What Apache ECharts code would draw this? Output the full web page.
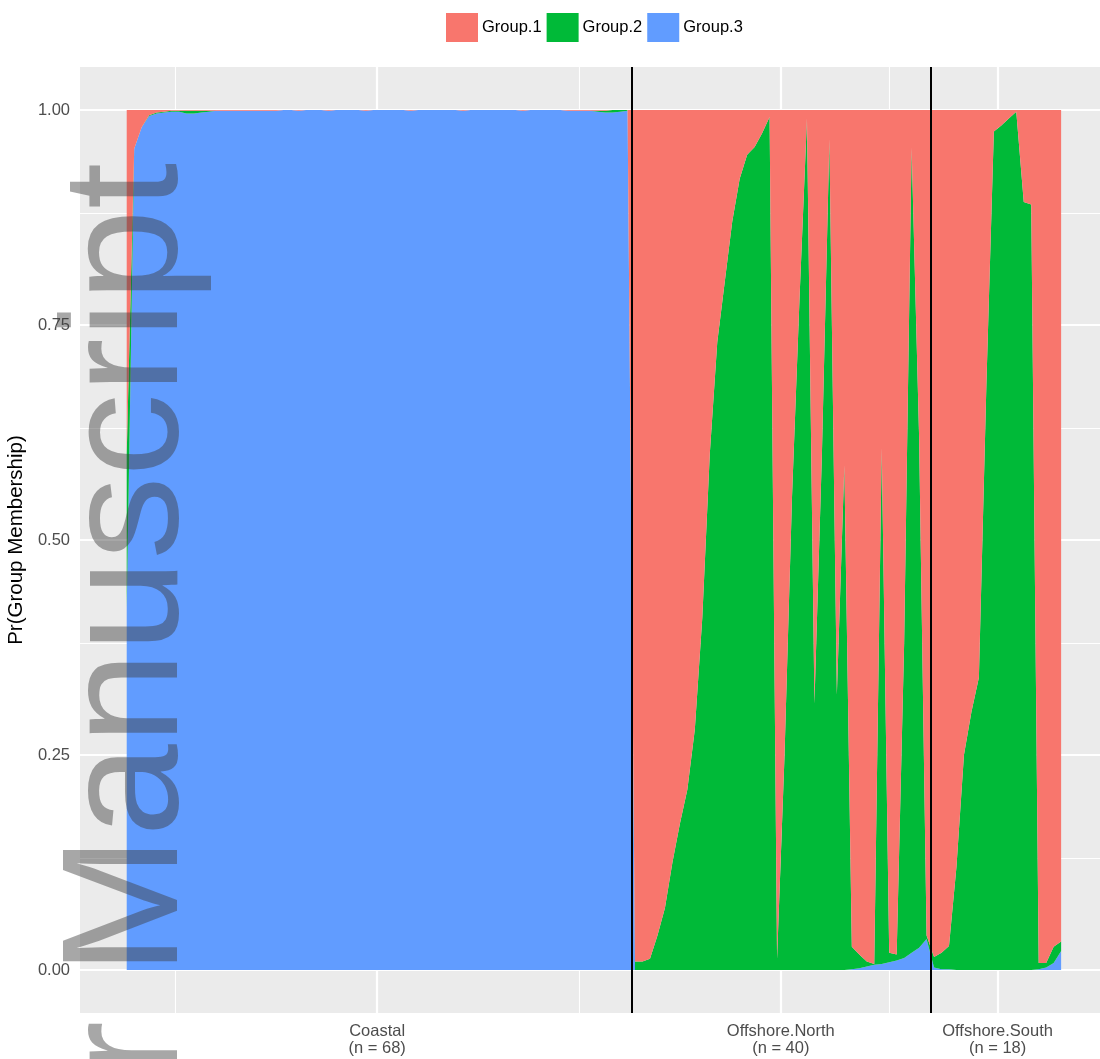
<!DOCTYPE html>
<html>
<head>
<meta charset="utf-8">
<script src="https://cdn.jsdelivr.net/npm/echarts@6/dist/echarts.min.js"></script>
<style>html,body{margin:0;padding:0;background:#fff}#c{width:1100px;height:1059px}</style>
</head>
<body>
<div id="c"></div>
<script>
// ---- data ----
const populations = ['Coastal', 'Offshore.North', 'Offshore.South'];
const popCounts = [68, 40, 18];
const groupNames = ['Group.1', 'Group.2', 'Group.3'];
const groupColors = ['#F8766D', '#00BA38', '#619CFF'];
const yTicks = [0, 0.25, 0.5, 0.75, 1];

const coastalG1 = [
0.400,0.045,0.020,0.006,0.003,0.002,0.001,0.001,0.001,0.001,
0.001,0.001,0.001,0.001,0.001,0.001,0.001,0.001,0.001,0.001,
0.001,0.000,0.000,0.001,0.000,0.000,0.000,0.001,0.000,0.000,
0.000,0.000,0.001,0.000,0.000,0.000,0.000,0.000,0.001,0.000,
0.000,0.000,0.000,0.000,0.000,0.001,0.000,0.000,0.000,0.000,
0.000,0.000,0.000,0.001,0.000,0.000,0.000,0.000,0.000,0.001,
0.001,0.001,0.001,0.001,0.001,0.000,0.000,0.000];
const coastalG2 = [
0.180,0.000,0.000,0.001,0.001,0.001,0.001,0.001,0.003,0.003,
0.002,0.001,0.000,0.000,0.000,0.000,0.000,0.000,0.000,0.000,
0.000,0.000,0.000,0.000,0.000,0.000,0.000,0.000,0.000,0.000,
0.000,0.000,0.000,0.000,0.000,0.000,0.000,0.000,0.000,0.000,
0.000,0.000,0.000,0.000,0.000,0.000,0.000,0.000,0.000,0.000,
0.000,0.000,0.000,0.000,0.000,0.000,0.000,0.000,0.000,0.000,
0.000,0.000,0.000,0.001,0.002,0.003,0.002,0.001];
const coastalG3 = [
0.420,0.955,0.980,0.993,0.996,0.997,0.998,0.998,0.996,0.996,
0.997,0.998,0.999,0.999,0.999,0.999,0.999,0.999,0.999,0.999,
0.999,1.000,1.000,0.999,1.000,1.000,1.000,0.999,1.000,1.000,
1.000,1.000,0.999,1.000,1.000,1.000,1.000,1.000,0.999,1.000,
1.000,1.000,1.000,1.000,1.000,0.999,1.000,1.000,1.000,1.000,
1.000,1.000,1.000,0.999,1.000,1.000,1.000,1.000,1.000,0.999,
0.999,0.999,0.999,0.998,0.997,0.997,0.998,0.999];

const northG1 = [
0.990,0.990,0.987,0.960,0.928,0.875,0.830,0.790,0.720,0.590,
0.400,0.270,0.200,0.130,0.080,0.052,0.043,0.027,0.008,0.987,
0.750,0.450,0.220,0.010,0.690,0.400,0.034,0.680,0.413,0.973,
0.982,0.990,0.993,0.393,0.980,0.982,0.620,0.044,0.380,0.960];
const northG2 = [
0.010,0.010,0.013,0.040,0.072,0.125,0.170,0.210,0.280,0.410,
0.600,0.730,0.800,0.870,0.920,0.948,0.957,0.973,0.992,0.013,
0.250,0.550,0.780,0.990,0.310,0.600,0.966,0.320,0.587,0.026,
0.016,0.006,0.001,0.600,0.011,0.007,0.366,0.936,0.594,0.004];
const northG3 = [
0.000,0.000,0.000,0.000,0.000,0.000,0.000,0.000,0.000,0.000,
0.000,0.000,0.000,0.000,0.000,0.000,0.000,0.000,0.000,0.000,
0.000,0.000,0.000,0.000,0.000,0.000,0.000,0.000,0.000,0.001,
0.002,0.004,0.006,0.007,0.009,0.011,0.014,0.020,0.026,0.036];

const southG1 = [
0.985,0.980,0.972,0.880,0.750,0.700,0.660,0.320,0.025,0.018,
0.010,0.002,0.107,0.110,0.992,0.992,0.973,0.967];
const southG2 = [
0.012,0.019,0.027,0.120,0.250,0.300,0.340,0.680,0.975,0.982,
0.990,0.998,0.893,0.890,0.007,0.005,0.019,0.011];
const southG3 = [
0.003,0.001,0.001,0.000,0.000,0.000,0.000,0.000,0.000,0.000,
0.000,0.000,0.000,0.000,0.001,0.003,0.008,0.022];

// ---- assemble ----
const g1 = coastalG1.concat(northG1, southG1);
const g2 = coastalG2.concat(northG2, southG2);
const g3 = coastalG3.concat(northG3, southG3);
// value first, individual index second (so the stack is applied to the value dimension)
const toPairs = arr => arr.map((v, i) => [v, i + 1]);

const labelPos = [];
const sepPos = [];
let start = 1;
popCounts.forEach((n, k) => {
  const end = start + n - 1;
  labelPos.push((start + end) / 2);
  if (k < popCounts.length - 1) sepPos.push(end + 0.5);
  start = end + 1;
});
const labelText = {};
labelPos.forEach((p, k) => { labelText[p] = populations[k] + '\n(n = ' + popCounts[k] + ')'; });

// ggplot-like grid lines
const xMajor = labelPos.slice();
const xMinor = [];
xMinor.push(xMajor[0] - (xMajor[1] - xMajor[0]) / 2);
for (let i = 0; i < xMajor.length - 1; i++) xMinor.push((xMajor[i] + xMajor[i + 1]) / 2);
const yMinor = [0.125, 0.375, 0.625, 0.875];

const gridLineData = []
  .concat(yTicks.map(v => ({ yAxis: v, lineStyle: { color: '#fff', width: 2.2, type: 'solid' } })))
  .concat(yMinor.map(v => ({ yAxis: v, lineStyle: { color: '#fff', width: 1.1, type: 'solid' } })))
  .concat(xMajor.map(v => ({ xAxis: v, lineStyle: { color: '#fff', width: 2.2, type: 'solid' } })))
  .concat(xMinor.map(v => ({ xAxis: v, lineStyle: { color: '#fff', width: 1.1, type: 'solid' } })));

const chart = echarts.init(document.getElementById('c'), null, { renderer: 'canvas' });

function areaSeries(name, data, color) {
  return {
    name: name, type: 'line', stack: 'total', data: toPairs(data),
    encode: { x: 1, y: 0 },
    showSymbol: false, symbol: 'none', smooth: false, z: 3,
    lineStyle: { width: 0, color: color },
    itemStyle: { color: color },
    areaStyle: { color: color, opacity: 1 },
    emphasis: { disabled: true }
  };
}

const option = {
  animation: false,
  backgroundColor: '#ffffff',
  textStyle: { fontFamily: '"Liberation Sans", Arial, sans-serif' },
  legend: {
    top: 8, left: 441,
    icon: 'rect', itemWidth: 32, itemHeight: 29, itemGap: 5,
    data: groupNames,
    textStyle: { fontSize: 16.5, color: '#000', padding: [0, 0, 0, -1] },
    selectedMode: false
  },
  grid: {
    left: 80, right: 0, top: 67, bottom: 46, show: true, backgroundColor: '#EBEBEB', borderWidth: 0,
    containLabel: false, outerBoundsMode: 'none'
  },
  xAxis: {
    type: 'value', min: -5.25, max: 131.2,
    axisLine: { show: false }, axisTick: { show: false }, splitLine: { show: false },
    axisLabel: {
      customValues: labelPos,
      formatter: v => labelText[v] || '',
      fontSize: 16.5, color: '#4D4D4D', lineHeight: 17, margin: 10, align: 'center'
    }
  },
  yAxis: {
    type: 'value', min: -0.05, max: 1.05,
    name: 'Pr(Group Membership)', nameLocation: 'middle', nameGap: 43, nameRotate: 90,
    nameTextStyle: { fontSize: 20.5, color: '#000' },
    axisLine: { show: false },
    axisTick: { show: true, customValues: yTicks, length: 5, lineStyle: { color: '#333333', width: 1.8 } },
    splitLine: { show: false },
    axisLabel: { customValues: yTicks, formatter: v => v.toFixed(2), fontSize: 16.5, color: '#4D4D4D', margin: 10 }
  },
  series: [
    {
      name: 'grid', type: 'line', data: [[0.5, 1]], encode: { x: 1, y: 0 }, z: 1, silent: true,
      showSymbol: false, symbol: 'none', lineStyle: { opacity: 0 },
      markLine: { silent: true, z: 1, symbol: ['none', 'none'], label: { show: false }, data: gridLineData, animation: false }
    },
    areaSeries(groupNames[2], g3, groupColors[2]),
    areaSeries(groupNames[1], g2, groupColors[1]),
    areaSeries(groupNames[0], g1, groupColors[0]),
    {
      name: 'sep', type: 'line', data: [[0.5, 1]], encode: { x: 1, y: 0 }, z: 10, silent: true,
      showSymbol: false, symbol: 'none', lineStyle: { opacity: 0 },
      markLine: {
        silent: true, z: 10, symbol: ['none', 'none'], label: { show: false }, animation: false,
        data: sepPos.map(v => ({ xAxis: v, lineStyle: { color: '#000', width: 2, type: 'solid' } }))
      }
    }
  ],
  graphic: [{
    type: 'text', x: 214, y: 163, rotation: Math.PI / 2, z: 100, silent: true,
    style: {
      text: 'Author Manuscript', font: '166px "Liberation Sans", Arial, sans-serif',
      fill: 'rgba(60,60,60,0.45)', align: 'right', verticalAlign: 'bottom'
    }
  }]
};
chart.setOption(option);
</script>
</body>
</html>
